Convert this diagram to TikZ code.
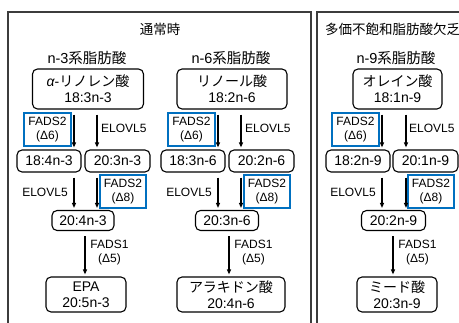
\documentclass[tikz,border=0pt]{standalone}
\usepackage{fontspec}
\setmainfont{Liberation Sans}
\newfontfamily\cjk{Noto Sans CJK JP}
\newcommand\jpn[1]{{\cjk #1}}
\usetikzlibrary{arrows.meta}
\definecolor{blueC}{RGB}{0,112,192}
\definecolor{frameC}{RGB}{60,60,60}
\tikzset{
 box/.style={draw, rounded corners=5pt, line width=1.1pt, align=center, inner sep=0pt, font=\fontsize{14}{16}\selectfont},
 bbox/.style={draw=blueC, line width=1.3pt, align=center, inner sep=0pt, font=\fontsize{12}{14}\selectfont},
 lbl/.style={align=center, inner sep=0pt, font=\fontsize{12}{14}\selectfont},
 hdr/.style={inner sep=0pt, font=\fontsize{14.5}{16}\selectfont},
 ttl/.style={inner sep=0pt, font=\fontsize{13.5}{16}\selectfont},
 arr/.style={-{Triangle[length=5pt,width=4pt]}, line width=1.2pt, shorten >=2pt, shorten <=5pt},
 frame/.style={draw=frameC, line width=1.1pt},
}
\begin{document}
\begin{tikzpicture}[x=1pt,y=-1pt]
\clip (0,0) rectangle (459,323);
\fill[white] (0,0) rectangle (459,323);
% frames
\draw[frame] (8,340) |- (311,12) -- (311,340);
\draw[frame] (317,340) |- (480,12);
\node[ttl] (t1) at (160,29) {\jpn{通常時}};
\node[ttl, anchor=west] (t2) at (325,29) {\jpn{多価不飽和脂肪酸欠乏}};
% n-3 column
\begin{scope}
\node[hdr] (h3) at (87,58) {n-3\jpn{系脂肪酸}};
\node[box, minimum width=111pt, minimum height=40pt] (t3) at (88,89) {{\itshape α}-\jpn{リノレン酸}\\18:3n-3};
\node[bbox, minimum width=47pt, minimum height=33pt] (fa3) at (47.5,129.5) {FADS2\\(Δ6)};
\node[lbl, anchor=west] (ea3) at (101,128) {ELOVL5};
\node[box, minimum width=64pt, minimum height=22pt] (ra3) at (49,161) {18:4n-3};
\node[box, minimum width=65pt, minimum height=22pt] (rb3) at (117.5,161) {20:3n-3};
\node[lbl] (eb3) at (45,192) {ELOVL5};
\node[bbox, minimum width=46pt, minimum height=33pt] (fb3) at (123,191.5) {FADS2\\(Δ8)};
\node[box, minimum width=62pt, minimum height=20pt] (m3) at (83,220.5) {20:4n-3};
\node[lbl] (fc3) at (109.5,253) {FADS1\\(Δ5)};
\node[box, minimum width=80pt, minimum height=35pt] (b3) at (86,294.5) {EPA\\20:5n-3};
\coordinate (xa3) at (74,0); \coordinate (xb3) at (97,0); \coordinate (xc3) at (85,0);
\draw[arr] (t3.south -| xa3) -- (ra3.north -| xa3);
\draw[arr] (t3.south -| xb3) -- (rb3.north -| xb3);
\draw[arr] (ra3.south -| xa3) -- (m3.north -| xa3);
\draw[arr] (rb3.south -| xb3) -- (m3.north -| xb3);
\draw[arr] (m3.south -| xc3) -- (b3.north -| xc3);
\end{scope}
% n-6 column
\begin{scope}[xshift=144pt]
\node[hdr] (h6) at (87,58) {n-6\jpn{系脂肪酸}};
\node[box, minimum width=110pt, minimum height=40pt] (t6) at (88,89) {\jpn{リノール酸}\\18:2n-6};
\node[bbox, minimum width=47pt, minimum height=33pt] (fa6) at (47.5,129.5) {FADS2\\(Δ6)};
\node[lbl, anchor=west] (ea6) at (101,128) {ELOVL5};
\node[box, minimum width=64pt, minimum height=22pt] (ra6) at (49,161) {18:3n-6};
\node[box, minimum width=65pt, minimum height=22pt] (rb6) at (117.5,161) {20:2n-6};
\node[lbl] (eb6) at (45,192) {ELOVL5};
\node[bbox, minimum width=46pt, minimum height=33pt] (fb6) at (123,191.5) {FADS2\\(Δ8)};
\node[box, minimum width=63pt, minimum height=20pt] (m6) at (83,220.5) {20:3n-6};
\node[lbl] (fc6) at (109.5,253) {FADS1\\(Δ5)};
\node[box, minimum width=108pt, minimum height=35pt] (b6) at (87,294.5) {\jpn{アラキドン酸}\\20:4n-6};
\coordinate (xa6) at (74,0); \coordinate (xb6) at (97,0); \coordinate (xc6) at (85,0);
\draw[arr] (t6.south -| xa6) -- (ra6.north -| xa6);
\draw[arr] (t6.south -| xb6) -- (rb6.north -| xb6);
\draw[arr] (ra6.south -| xa6) -- (m6.north -| xa6);
\draw[arr] (rb6.south -| xb6) -- (m6.north -| xb6);
\draw[arr] (m6.south -| xc6) -- (b6.north -| xc6);
\end{scope}
% n-9 column
\begin{scope}[xshift=308pt]
\node[hdr] (h9) at (88,58) {n-9\jpn{系脂肪酸}};
\node[box, minimum width=89pt, minimum height=40pt] (t9) at (89.5,89) {\jpn{オレイン酸}\\18:1n-9};
\node[bbox, minimum width=47pt, minimum height=33pt] (fa9) at (47.5,129.5) {FADS2\\(Δ6)};
\node[lbl, anchor=west] (ea9) at (101,128) {ELOVL5};
\node[box, minimum width=64pt, minimum height=22pt] (ra9) at (50,161) {18:2n-9};
\node[box, minimum width=65pt, minimum height=22pt] (rb9) at (117.5,161) {20:1n-9};
\node[lbl] (eb9) at (45,192) {ELOVL5};
\node[bbox, minimum width=46pt, minimum height=33pt] (fb9) at (123,191.5) {FADS2\\(Δ8)};
\node[box, minimum width=64pt, minimum height=20pt] (m9) at (85.5,220.5) {20:2n-9};
\node[lbl] (fc9) at (109.5,253) {FADS1\\(Δ5)};
\node[box, minimum width=80pt, minimum height=35pt] (b9) at (89,294.5) {\jpn{ミード酸}\\20:3n-9};
\coordinate (xa9) at (74,0); \coordinate (xb9) at (98,0); \coordinate (xc9) at (85,0);
\draw[arr] (t9.south -| xa9) -- (ra9.north -| xa9);
\draw[arr] (t9.south -| xb9) -- (rb9.north -| xb9);
\draw[arr] (ra9.south -| xa9) -- (m9.north -| xa9);
\draw[arr] (rb9.south -| xb9) -- (m9.north -| xb9);
\draw[arr] (m9.south -| xc9) -- (b9.north -| xc9);
\end{scope}
\end{tikzpicture}
\end{document}
